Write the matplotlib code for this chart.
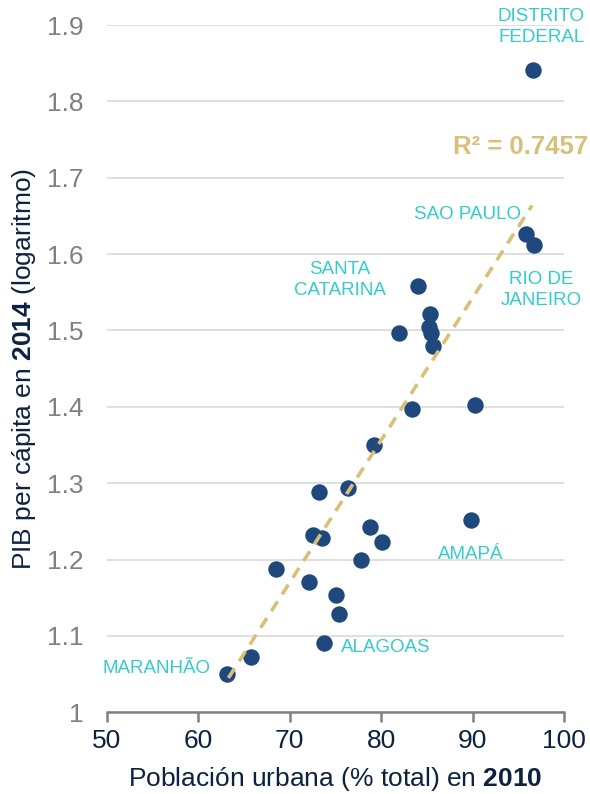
import matplotlib.pyplot as plt
import numpy as np

plt.rcParams['font.family'] = ['Liberation Sans', 'DejaVu Sans']
plt.rcParams['mathtext.fontset'] = 'custom'
plt.rcParams['mathtext.rm'] = 'Liberation Sans'
plt.rcParams['mathtext.bf'] = 'Liberation Sans:bold'

# urban population (% total) 2010, GDP per capita 2014 (log)
urbana = [96.6, 95.8, 96.7, 84.0, 85.3, 85.2, 85.4, 81.9, 85.7, 83.4,
          90.3, 79.2, 76.4, 73.2, 89.8, 78.8, 72.6, 73.5, 80.1, 77.8,
          68.5, 72.1, 75.1, 75.4, 73.7, 65.8, 63.1]
pib = [1.841, 1.626, 1.612, 1.558, 1.521, 1.504, 1.497, 1.497, 1.479, 1.397,
       1.402, 1.350, 1.293, 1.289, 1.252, 1.243, 1.232, 1.228, 1.223, 1.200,
       1.188, 1.171, 1.154, 1.128, 1.091, 1.072, 1.050]

# linear trend as shown in the chart
pendiente = 0.01864
intercepto = -0.135
tendencia_x = [63.3, 96.5]
r2_texto = 'R² = 0.7457'

etiquetas = ['DISTRITO\nFEDERAL', 'SAO PAULO', 'RIO DE\nJANEIRO', 'SANTA\nCATARINA',
             'AMAPÁ', 'ALAGOAS', 'MARANHÃO']
etq_x = [97.5, 89.4, 97.5, 75.5, 89.8, 75.6, 61.3]
etq_y = [1.897, 1.652, 1.553, 1.566, 1.207, 1.085, 1.057]
etq_ha = ['center', 'center', 'center', 'center', 'center', 'left', 'right']

azul = '#1f497d'
turquesa = '#33cccc'
dorado = '#d9c07a'
navy = '#0d2240'

fig = plt.figure(figsize=(5.9, 7.94), dpi=100)
ax = fig.add_axes([0.181, 0.103, 0.775, 0.8655])

x = np.array(urbana)
y = np.array(pib)
xs = np.array(tendencia_x)
ax.plot(xs, pendiente * xs + intercepto, color=dorado, linestyle=(0, (3.2, 2.3)),
        linewidth=2.6, zorder=4)

ax.scatter(x, y, s=140, color=azul, zorder=3, linewidths=0)

for t, tx, ty, ha in zip(etiquetas, etq_x, etq_y, etq_ha):
    ax.text(tx, ty, t, color=turquesa, fontsize=13.5, ha=ha, va='center',
            linespacing=1.3)

ax.text(95.2, 1.740, r2_texto, color=dorado, fontsize=18.5, fontweight='bold',
        ha='center', va='center')

ax.set_xlim(50, 100)
ax.set_ylim(1.0, 1.9)
ax.set_xticks(np.arange(50, 101, 10))
ax.set_yticks(np.arange(1.0, 1.91, 0.1))
ax.set_yticklabels(['1', '1.1', '1.2', '1.3', '1.4', '1.5', '1.6', '1.7', '1.8', '1.9'])

ax.grid(axis='y', color='#d9d9d9', linewidth=1.2)
ax.set_axisbelow(True)

for s in ['top', 'right', 'left']:
    ax.spines[s].set_visible(False)
ax.spines['bottom'].set_color('#808080')
ax.spines['bottom'].set_linewidth(1.8)

ax.tick_params(axis='x', colors='#808080', width=1.8, length=7, labelsize=19,
               labelcolor=navy, pad=5)
ax.tick_params(axis='y', length=0, labelsize=19, labelcolor='#808080', pad=17)

ax.set_xlabel(r'Población urbana (% total) en $\bf{2010}$', fontsize=19, color=navy, labelpad=9)
ax.set_ylabel(r'PIB per cápita en $\bf{2014}$ (logaritmo)', fontsize=19, color=navy, labelpad=6)

fig.savefig('out.png', dpi=100)
